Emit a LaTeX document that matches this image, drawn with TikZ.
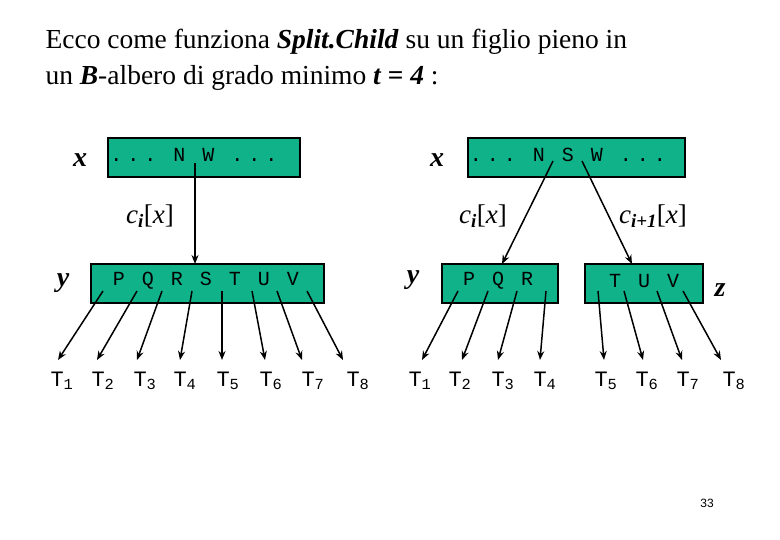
\documentclass[tikz,border=0pt]{standalone}
\usepackage{fontspec}
\setmainfont{Liberation Serif}
\setmonofont{Liberation Mono}
\newfontfamily\pnum{Liberation Sans}
\usetikzlibrary{arrows.meta}
\definecolor{boxgreen}{RGB}{16,178,138}
\newcommand{\cix}[1]{\textit{c}\textsubscript{\textbf{\textit{#1}}}[\textit{x}]}
\newcommand{\ksp}{\hspace{17pt}}
\newcommand{\kdots}{.\hspace{5pt}.\hspace{5pt}.}
\begin{document}
\begin{tikzpicture}[x=1pt,y=-1pt,
  keybox/.style={draw,line width=2.6pt,fill=boxgreen,inner sep=0pt},
  keys/.style={font=\ttfamily\fontsize{20}{20}\selectfont},
  lbl/.style={font=\fontsize{28}{28}\selectfont\itshape\bfseries},
  cl/.style={font=\fontsize{27}{27}\selectfont},
  tl/.style={font=\ttfamily\fontsize{22}{22}\selectfont},
  ar/.style={-{Stealth[length=9pt,width=7pt]},line width=1.5pt}]
\useasboundingbox (0,0) rectangle (780,540);
\node[anchor=north west,align=left,font=\fontsize{27.5}{36}\selectfont] (title) at (42,26)
 {Ecco come funziona \textbf{\itshape Split.Child} su un figlio pieno in\\un \textbf{\itshape B}-albero di grado minimo \textbf{\itshape t = 4} :};
\node[font=\pnum\fontsize{12}{12}\selectfont] (pg) at (707,503) {33};
% left
\node[keybox,minimum width=192,minimum height=39] (x1) at (204,157.5) {};
\node[keys] (x1t) at (194,155) {\kdots\ksp N\ksp W\ksp\kdots};
\node[lbl] (x1l) at (80,160) {x};
\node[keybox,minimum width=233,minimum height=39] (y1) at (207.5,283.5) {};
\node[keys] (y1t) at (206,281) {P\ksp Q\ksp R\ksp S\ksp T\ksp U\ksp V};
\node[lbl] (y1l) at (63,283) {y};
\node[cl] (c1) at (150,216) {\cix{i}};
\coordinate (x1a) at (195,163);
\draw[ar] (x1a) -- (195,264);
\foreach \i/\s/\e/\t in {1/103/58/62,2/137/97/103,3/162/137/145,4/192/180/185,5/222/222/228,6/252/265/271,7/277/302/313,8/307/343/358}{
  \coordinate (ls\i) at (\s,291);
  \coordinate (le\i) at (\e,360);
  \node[tl] (lt\i) at (\t,381) {T\textsubscript{\i}};
  \draw[ar] (ls\i) -- (le\i);
}
% right
\node[keybox,minimum width=217,minimum height=39] (x2) at (576.5,157.5) {};
\node[keys] (x2t) at (568,155) {\kdots\ksp N\ksp S\ksp W\ksp\kdots};
\node[lbl] (x2l) at (437,160) {x};
\node[keybox,minimum width=116,minimum height=39] (y2) at (500,283.5) {};
\node[keys] (y2t) at (498,281) {P\ksp Q\ksp R};
\node[keybox,minimum width=118,minimum height=39] (z2) at (644,283.5) {};
\node[keys] (z2t) at (644,281) {T\ksp U\ksp V};
\node[lbl] (y2l) at (413,280) {y};
\node[lbl] (z2l) at (720,290) {z};
\node[cl] (c2) at (483,216) {\cix{i}};
\node[cl] (c3) at (653,216) {\cix{i+1}};
\coordinate (xa) at (553,161);
\coordinate (xb) at (582,161);
\draw[ar] (xa) -- (502,264);
\draw[ar] (xb) -- (632,264);
\foreach \i/\s/\e/\t in {1/458/422/420,2/488/462/460,3/517/498/503,4/546/540/545,5/598/604/606,6/624/643/647,7/657/682/688,8/683/721/734}{
  \coordinate (rs\i) at (\s,291);
  \coordinate (re\i) at (\e,360);
  \node[tl] (rt\i) at (\t,381) {T\textsubscript{\i}};
  \draw[ar] (rs\i) -- (re\i);
}
\end{tikzpicture}
\end{document}
